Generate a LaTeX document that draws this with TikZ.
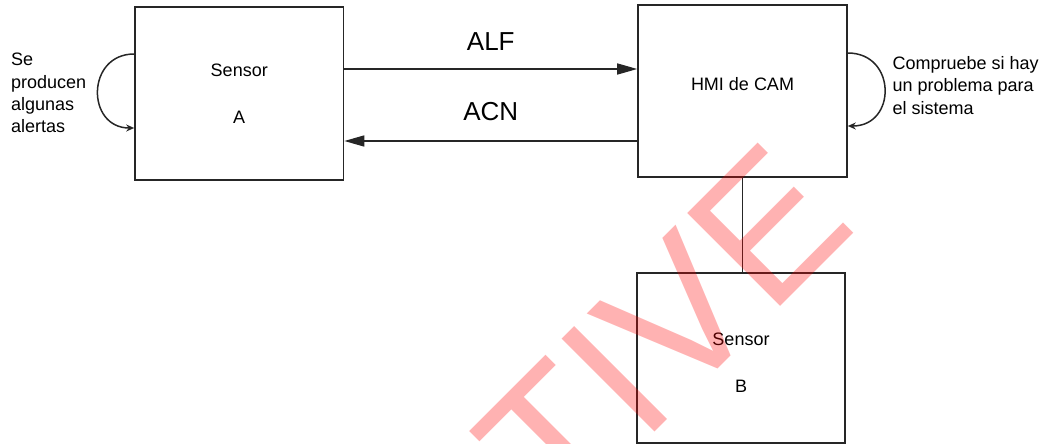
\documentclass[tikz,border=0pt]{standalone}
\usepackage{fontspec}
\setmainfont{Liberation Sans}
\usepackage{tikz}
\usetikzlibrary{positioning, arrows.meta}

\tikzset{
  box/.style={draw=black!85, line width=1.6pt, minimum width=208pt, minimum height=172pt, inner sep=0pt},
  boxtext/.style={align=center, inner sep=0pt, font=\fontsize{18}{47}\selectfont},
  note/.style={align=left, anchor=north west, inner sep=0pt, font=\fontsize{18}{22.4}\selectfont},
  msg/.style={draw=black!85, line width=1.5pt, -{Triangle[length=20pt,width=11pt]}},
  msglabel/.style={font=\fontsize{26}{26}\selectfont, inner sep=0pt},
  selfloop/.style={draw=black!85, line width=1.5pt, -{Stealth[length=8pt,width=7pt]}},
}

\begin{document}
\begin{tikzpicture}[x=1pt, y=1pt]
        \useasboundingbox (0,0) rectangle (1049,-444);
        \node[box, minimum width=208.5pt, minimum height=173pt] (sensA) at (239.25,-93.5) {};
        \node[box, minimum width=209pt] (hmi) at (742.5,-91) {};
        \node[box, minimum height=170pt] (sensB) at (741,-358) {};
        \node[boxtext] (sensAtxt) at (sensA.center) {Sensor\\A};
        \node[boxtext] (hmitxt) at ([yshift=6.5pt]hmi.center) {HMI de CAM};
        \node[boxtext] (sensBtxt) at ([yshift=-4.5pt]sensB.center) {Sensor\\B};
        \draw[msg] ([yshift=24.5pt]sensA.east) -- node[msglabel, above=17.5pt] (alf) {ALF} ([yshift=24.5pt]sensA.east -| hmi.west);
        \draw[msg] ([yshift=-47.5pt]sensA.east -| hmi.west) -- node[msglabel, above=19pt] (acn) {ACN} ([yshift=-47.5pt]sensA.east);
        \draw[draw=black!85, line width=1.5pt] (hmi.south) -- (hmi.south |- sensB.north);
        \draw[selfloop] ([yshift=39.5pt]sensA.west) to[out=180, in=180, looseness=1.67] ([yshift=-34.5pt]sensA.west);
        \draw[selfloop] ([yshift=38pt]hmi.east) to[out=0, in=0, looseness=1.72] ([yshift=-35pt]hmi.east);
        \node[note] (alertas) at (10.8,-52.9) {Se\\producen\\algunas\\alertas};
        \node[note] (compruebe) at (892.4,-56.2) {Compruebe si hay\\un problema para\\el sistema};
        \node[anchor=base west, rotate=45, inner sep=0pt, text=red, text opacity=0.3, font=\fontsize{191}{191}\selectfont] (marca) at (559.4,-527.3) {TIVE};
    \end{tikzpicture}
\end{document}
